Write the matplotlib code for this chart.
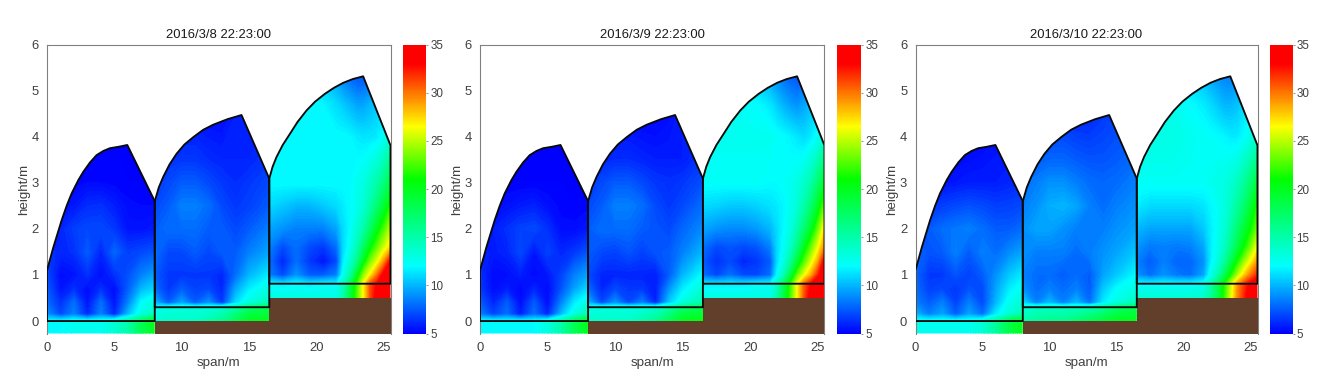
import numpy as np
import matplotlib
matplotlib.use('Agg')
import matplotlib.pyplot as plt
from matplotlib.cm import ScalarMappable
from matplotlib.colors import LinearSegmentedColormap, Normalize
from matplotlib.patches import Polygon

plt.rcParams['font.family'] = ['Liberation Sans', 'DejaVu Sans']

titles = ['2016/3/8 22:23:00', '2016/3/9 22:23:00', '2016/3/10 22:23:00']
W, H = 1325, 379

# 温室の輪郭 (span, height)
house1_x = [0, 0, 0.47, 1.09, 1.46, 1.83, 2.33, 2.7, 3.19, 3.68, 4.18, 4.67, 5.3, 5.96, 8, 8]
house1_y = [0, 1.1, 1.6, 2.19, 2.5, 2.77, 3.06, 3.24, 3.44, 3.6, 3.69, 3.75, 3.78, 3.82, 2.6, 0]
house2_x = [8, 8, 8.3, 8.63, 9.1, 9.62, 10.2, 10.86, 11.6, 12.34, 13.4, 14.44, 16.5, 16.5]
house2_y = [0.3, 2.6, 2.9, 3.13, 3.4, 3.63, 3.83, 3.99, 4.15, 4.26, 4.38, 4.47, 3.09, 0.3]
house3_x = [16.5, 16.5, 16.75, 17.04, 17.5, 18.03, 18.6, 19.27, 19.9, 20.63, 21.3, 22, 22.7, 23.47, 25.5, 25.5]
house3_y = [0.81, 3.09, 3.35, 3.56, 3.82, 4.06, 4.32, 4.57, 4.76, 4.93, 5.06, 5.17, 5.25, 5.31, 3.81, 0.81]
soil_x = [8, 16.5, 16.5, 25.5, 25.5, 8]
soil_y = [0, 0, 0.5, 0.5, -0.27, -0.27]

# 温度の格子
grid1_x = [0, 1, 2, 3, 4, 5, 6, 7, 8]
grid1_y = [-0.27, 0, 0.15, 0.4, 0.7, 1, 1.5, 2, 2.5, 3, 3.9]
grid2_x = [8, 9, 10, 11, 12, 13, 14, 15, 16.5]
grid2_y = [0, 0.3, 0.4, 0.7, 1, 1.5, 2, 2.5, 3, 3.5, 4.5]
grid3_x = [16.5, 17.5, 18.5, 19.5, 20.5, 21.5, 22, 22.5, 23, 23.5, 24, 24.5, 25, 25.5]
grid3_y = [0.5, 0.8, 1.0, 1.3, 1.6, 2, 2.5, 3, 4, 4.7, 5.4]

# 2016/3/8
day1_house1 = [
    [12, 12, 12.5, 12.5, 12.5, 13.5, 15, 18, 20],
    [12, 12, 12.5, 12.5, 12.5, 13.5, 15, 18, 20],
    [9, 7, 8.5, 6, 8.5, 6, 10, 13, 14.5],
    [8, 6.3, 8, 5.5, 8, 5.5, 8.5, 12, 13],
    [7.5, 5.5, 6.3, 5.3, 6.3, 5.3, 7.5, 10, 11],
    [7, 5.3, 5.5, 6.3, 5.3, 6.3, 7.2, 8.5, 9.5],
    [6.5, 6, 6.3, 7.5, 6, 7.8, 6.7, 7, 7.3],
    [5.5, 6, 6.7, 7, 7, 6.5, 5.5, 5.5, 5.7],
    [5.2, 5.4, 5.6, 6.2, 6.3, 5.8, 5.3, 5.2, 5.2],
    [5, 5, 5.1, 5.2, 5.2, 5.1, 5, 5, 5],
    [5, 5, 5, 5, 5, 5, 5, 5, 5],
]
day1_house2 = [
    [13.5, 14, 14, 14, 15, 16, 18, 20, 20],
    [12, 13, 13, 13, 13, 13.5, 15, 17, 18],
    [10, 7.5, 9.5, 7.5, 9, 6.5, 11, 13, 14.5],
    [8, 6.5, 7.5, 6.8, 7, 6, 9.5, 11.5, 13],
    [7.5, 6.5, 6.5, 6.5, 6.5, 6, 8, 10, 11.5],
    [8, 7, 7, 7.5, 7, 7.5, 7.5, 8.5, 9.5],
    [7.5, 8, 8, 8, 7.5, 7.5, 7, 7.5, 8.5],
    [7, 7.5, 8.5, 8.5, 8, 7, 6.5, 6.8, 7.5],
    [6.5, 7, 7.5, 7.5, 7, 6.5, 6.2, 6.5, 7],
    [6, 6.3, 6.5, 6.5, 6.2, 6, 6, 6, 6.5],
    [5.5, 5.5, 5.5, 5.5, 5.3, 5.3, 5.8, 6, 6],
]
day1_house3 = [
    [13, 13, 13, 13, 13, 13, 15, 18.5, 22.5, 26.5, 31, 34, 35, 35],
    [12, 11.5, 12, 11.5, 12, 12, 14, 18, 22, 26.5, 31, 33, 35, 35],
    [8.5, 7, 9, 7.5, 7.5, 8.5, 12.5, 15, 19.5, 24, 26.8, 30, 33.7, 35],
    [8, 6, 8, 6.5, 5.5, 7, 11.5, 13.5, 16, 20, 23.5, 25.8, 29, 33],
    [8.5, 7, 8, 7, 6.5, 8, 11, 12.5, 14.5, 17.5, 20.5, 23, 25.3, 27.5],
    [9.5, 9, 8.5, 8.5, 8.5, 9.5, 11, 12, 13.5, 15, 17.3, 20, 22.5, 24.8],
    [11, 10.5, 10, 10, 10.5, 11, 11.5, 12, 12.5, 13.5, 15, 17, 19, 21.5],
    [12, 12, 12, 12, 12, 12, 12, 12, 12.5, 13, 14, 15, 16.5, 18.5],
    [12, 12, 12, 12, 12, 12, 12, 11.8, 11.5, 11.3, 11.3, 11.5, 12.3, 13.5],
    [12, 12, 12, 12, 11.8, 11, 10.5, 10, 9.5, 9.5, 10, 10.5, 11, 12],
    [11, 11, 11, 11, 10, 9, 8, 7.5, 7, 7, 7.5, 8.5, 9.5, 10.5],
]

# 2016/3/9
day2_house1 = [
    [12, 12, 12, 12, 12, 13, 15, 18, 20],
    [12, 12, 12, 12, 12, 13, 15, 18, 20],
    [8.5, 6.8, 8, 5.8, 8, 6, 10, 13, 15],
    [7.5, 6, 7.5, 5.3, 7.5, 5.3, 8.5, 11.5, 13],
    [6.5, 5.3, 5.8, 5.1, 6, 5.2, 7.2, 9.5, 11],
    [6.3, 5.2, 5.3, 5.8, 5.2, 5.6, 6.8, 8.5, 9.5],
    [6, 5.7, 6, 7, 5.6, 6.8, 6, 6.5, 7.3],
    [5.3, 5.8, 6.3, 6.8, 7, 6.3, 5.3, 5.3, 5.6],
    [5.1, 5.2, 5.4, 5.7, 5.9, 5.4, 5.1, 5, 5.1],
    [5, 5, 5, 5, 5, 5, 5, 5, 5],
    [5, 5, 5, 5, 5, 5, 5, 5, 5],
]
day2_house2 = [
    [14, 14, 14, 14, 15, 16, 18, 20, 20.5],
    [12.5, 13, 13, 13, 13, 13.5, 15, 17, 18],
    [10, 7, 9, 7, 8.5, 6, 10.5, 13, 15],
    [8, 6, 7, 6.5, 6.5, 5.7, 9, 11.5, 13.5],
    [7, 6, 6, 6, 6, 5.8, 7.5, 10, 12],
    [7.5, 7, 6.8, 7.3, 6.8, 7.3, 7.5, 8.5, 10],
    [7.5, 8, 8, 8, 7.5, 7.3, 7, 7.8, 8.8],
    [7, 7.5, 8.5, 8.5, 8, 7, 6.5, 7, 8],
    [6.5, 7, 7.5, 7.5, 7, 6.5, 6.3, 6.5, 7.2],
    [5.7, 6, 6.2, 6.2, 6, 5.8, 5.8, 5.8, 6.5],
    [5.2, 5.2, 5.2, 5.2, 5, 5, 5.3, 5.8, 6],
]
day2_house3 = [
    [13, 13, 13, 13, 13, 13, 15, 18.5, 22.5, 26.5, 31, 34, 35, 35],
    [11.5, 11.5, 11.5, 11.5, 12, 12, 14, 18, 22, 26.5, 30.5, 33, 35, 35],
    [8, 7, 8, 7, 7, 8, 12, 14.5, 18.5, 23, 26, 28.5, 32, 35],
    [7.5, 6.3, 7, 6, 6.5, 7.5, 11, 13, 15.5, 19, 22.5, 25.5, 28.5, 33.5],
    [8, 7, 7.3, 7, 7.3, 8.5, 11, 12.3, 14, 16.5, 20, 23, 26, 29.5],
    [9.5, 9, 8.8, 8.8, 9.2, 10, 11, 12, 13, 14.8, 17, 19.5, 23, 27],
    [11, 10.8, 10.5, 10.5, 10.8, 11.2, 11.5, 11.8, 12.5, 13.5, 15, 17, 19.5, 23],
    [12.2, 12.2, 12.2, 12.2, 12.2, 12, 12, 12.2, 12.5, 13, 13.8, 15, 17, 19.5],
    [12.5, 12.5, 12.5, 12.5, 12.5, 12.5, 12.2, 12, 11.7, 11.3, 11, 11.5, 12.3, 13.5],
    [12.5, 12.5, 12.5, 12.3, 12, 11.3, 10.5, 9.8, 9.3, 9, 9.5, 10.2, 11, 12],
    [12, 12, 11.5, 11, 10, 9, 8.3, 7.8, 7.3, 7, 7.5, 8.5, 9.5, 10.5],
]

# 2016/3/10
day3_house1 = [
    [12.5, 12.5, 12.5, 12.5, 12.5, 13.5, 15.5, 18.5, 20],
    [12.5, 12.5, 12.5, 12.5, 12.5, 13.5, 15.5, 18.5, 20],
    [10, 8.5, 9.5, 7.5, 9.5, 8, 11.5, 13.5, 15],
    [8.5, 7.5, 8.5, 6.8, 8.5, 7, 10, 12.5, 13.5],
    [8, 6.8, 7, 6.5, 7.3, 7, 9.5, 11.5, 12.5],
    [7.8, 6.5, 6.5, 7.3, 6.8, 7.5, 9, 10.5, 11.5],
    [7.8, 7.3, 7.5, 8.5, 7.5, 8.5, 8, 8.8, 9.5],
    [7, 7.5, 8, 8.3, 8.5, 8, 7.5, 7.5, 8],
    [6, 6.3, 6.7, 7, 7.2, 7, 6.7, 6.8, 7],
    [5.3, 5.3, 5.5, 5.6, 5.8, 5.8, 5.8, 6, 6.2],
    [5, 5, 5, 5, 5, 5.2, 5.5, 5.5, 5.5],
]
day3_house2 = [
    [15, 15.5, 16, 16, 17, 18, 19, 20, 20],
    [13, 14, 14, 14, 14, 14.5, 15.5, 17, 18],
    [11, 8.5, 10, 8.5, 10, 8, 11.5, 13, 14.5],
    [9, 8, 8.5, 8, 8.5, 7.5, 10.5, 12, 13],
    [8.5, 8, 8, 7.5, 8, 7.5, 9.5, 10.5, 12],
    [9, 8.5, 8.5, 8.5, 8, 8.5, 9, 9.5, 10.5],
    [9, 9.5, 9.5, 9, 8.5, 8.5, 8.5, 9, 9.5],
    [8.5, 9, 9.8, 10, 9.5, 8.5, 8, 8.5, 9],
    [8, 8.5, 9, 9, 8.5, 8, 7.8, 8, 8.5],
    [7, 7.5, 7.8, 7.8, 7.5, 7.3, 7.3, 7.5, 8],
    [6, 6, 6.2, 6.3, 6, 6, 6.5, 6.8, 7],
]
day3_house3 = [
    [13.5, 13.5, 13.5, 13.5, 13.5, 14, 15.5, 18, 21.5, 25.5, 29.5, 32, 35, 35],
    [12, 12, 12, 12, 12, 12.5, 14.5, 17.5, 21, 25, 29, 31.5, 33.5, 35],
    [9, 8, 9, 8.3, 8, 9.5, 12.5, 14.5, 17.5, 21, 24.5, 27.5, 30, 32],
    [8.5, 7.5, 8.5, 7.8, 7.8, 9, 11.5, 13, 15, 18, 21, 24, 26.5, 29],
    [9, 8.3, 8.5, 8.3, 8.5, 9.5, 11.5, 12.5, 14, 16, 18.5, 21, 23.5, 26.5],
    [10, 9.5, 9.5, 9.5, 9.5, 10.5, 11.5, 12.3, 13.3, 15, 17, 19, 21, 23.5],
    [11.5, 11, 11, 11, 11, 11.3, 11.8, 12.3, 13, 14, 15.5, 17, 19, 21.5],
    [12.3, 12.3, 12.3, 12.3, 12.3, 12.3, 12.5, 12.8, 13, 13.5, 14.3, 15.5, 17, 19],
    [13, 13, 13, 12.8, 12.5, 12.3, 12.2, 12, 11.8, 11.5, 11.5, 12, 12.8, 13.5],
    [13, 13, 12.8, 12.5, 12, 11.5, 11, 10.5, 10, 10, 10.3, 11, 11.7, 12.5],
    [12, 12, 11.5, 11, 10.5, 9.8, 9.3, 8.8, 8.5, 8.3, 8.8, 9.5, 10.5, 11.5],
]

days = [
    [day1_house1, day1_house2, day1_house3],
    [day2_house1, day2_house2, day2_house3],
    [day3_house1, day3_house2, day3_house3],
]
grids = [(grid1_x, grid1_y), (grid2_x, grid2_y), (grid3_x, grid3_y)]
outlines = [(house1_x, house1_y), (house2_x, house2_y), (house3_x, house3_y)]
# 下の帯も含めて塗るためのクリップ範囲の下端
clip_bottom = [-0.27, 0, 0.5]

# 軸の位置 (pixel)
ax_left = [47, 480, 915.5]
ax_right = [390.5, 824.5, 1257.5]
cb_left = [403, 837, 1270]
cb_right = [426, 861, 1292.5]
ax_top, ax_bottom = 44.5, 333.5

cmap = LinearSegmentedColormap.from_list('temp', [
    (0, '#0000ff'), (7 / 30, '#00ffff'), (16 / 30, '#00ff00'),
    (21.5 / 30, '#ffff00'), (28 / 30, '#ff0000'), (1, '#ff0000')], N=512)
norm = Normalize(5, 35)
levels = np.linspace(5, 35, 151)
text_color = '#404040'
spine_color = '#808080'

fig = plt.figure(figsize=(W / 100, H / 100), dpi=100)

for i in range(3):
    ax = fig.add_axes([ax_left[i] / W, 1 - ax_bottom / H,
                       (ax_right[i] - ax_left[i]) / W, (ax_bottom - ax_top) / H])
    for j in range(3):
        gx, gy = grids[j]
        ox, oy = outlines[j]
        cs = ax.contourf(gx, gy, np.array(days[i][j]), levels=levels, cmap=cmap,
                         norm=norm, extend='both', antialiased=False)
        clip_x = [ox[0]] + list(ox) + [ox[-1]]
        clip_y = [clip_bottom[j]] + list(oy) + [clip_bottom[j]]
        clip = Polygon(np.column_stack([clip_x, clip_y]), closed=True,
                       transform=ax.transData)
        cs.set_clip_path(clip)
    ax.fill(soil_x, soil_y, color='#613f2a', lw=0, zorder=3)
    for ox, oy in outlines:
        ax.add_patch(Polygon(np.column_stack([ox, oy]), closed=True, fill=False,
                             edgecolor='#0a0a0a', lw=1.35, joinstyle='round', zorder=4))
    ax.set_xlim(0, 25.5)
    ax.set_ylim(-0.27, 6)
    ax.set_xticks([0, 5, 10, 15, 20, 25])
    ax.set_yticks([0, 1, 2, 3, 4, 5, 6])
    ax.tick_params(length=0, labelsize=9.4, labelcolor=text_color, pad=6)
    ax.set_xlabel('span/m', fontsize=9.6, color=text_color, labelpad=2)
    ax.set_ylabel('height/m', fontsize=9.6, color=text_color, labelpad=1)
    ax.set_title(titles[i], fontsize=9.4, color='#1a1a1a', pad=4.5)
    for s in ax.spines.values():
        s.set_color(spine_color)
        s.set_linewidth(0.8)
    ax.spines['bottom'].set_visible(False)

    cax = fig.add_axes([cb_left[i] / W, 1 - ax_bottom / H,
                        (cb_right[i] - cb_left[i]) / W, (ax_bottom - ax_top) / H])
    cb = fig.colorbar(ScalarMappable(norm=norm, cmap=cmap), cax=cax,
                      ticks=[5, 10, 15, 20, 25, 30, 35])
    cb.outline.set_visible(False)
    cb.ax.tick_params(length=1.5, width=0.6, color=spine_color, labelsize=8.4,
                      labelcolor=text_color, pad=1.5)

fig.savefig('out.png', dpi=100)
